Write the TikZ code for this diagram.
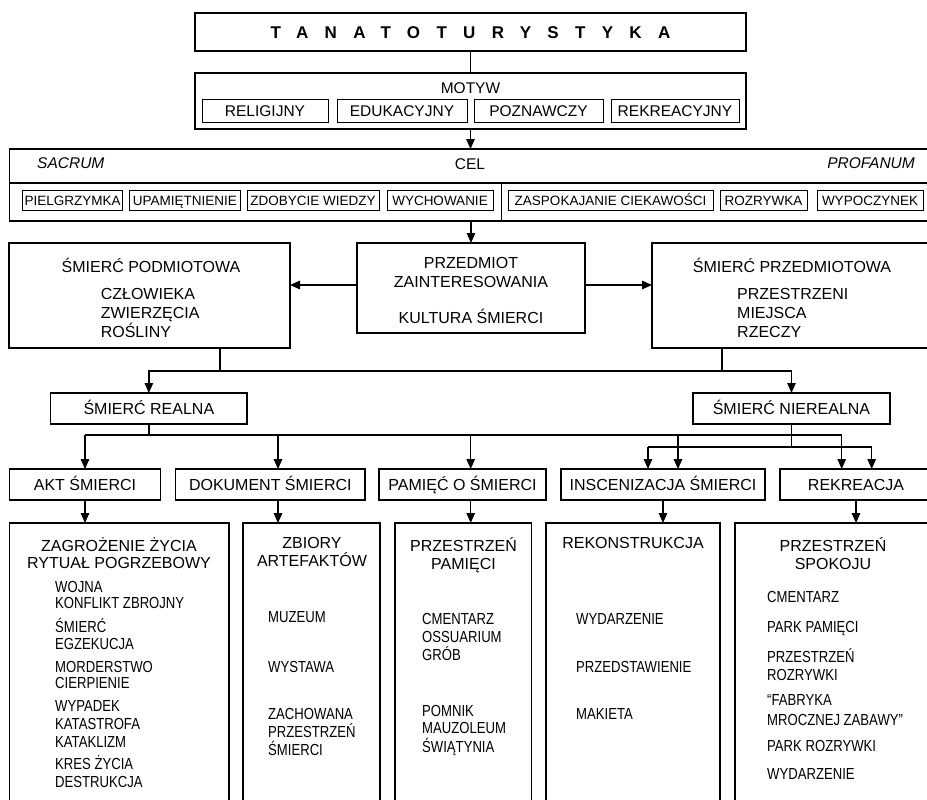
\documentclass[tikz,border=0pt]{standalone}
\usepackage{fontspec}
\setmainfont{Liberation Sans}
\newfontfamily\narrowfont[FakeStretch=0.82]{Liberation Sans}
\usetikzlibrary{arrows.meta}

\tikzset{
	frame/.style={draw, line width=1.3pt, inner sep=0pt, outer sep=0pt, anchor=north west,
		text height=11.4pt, text depth=0pt, font=\fontsize{16}{17}\selectfont},
	tab/.style={draw, line width=0.8pt, inner sep=0pt, outer sep=0pt, anchor=north west,
		minimum height=23.5pt, text height=11.1pt, text depth=0pt, font=\fontsize{15.5}{16}\selectfont},
	celtab/.style={tab, minimum height=20.5pt, text height=9.7pt, font=\fontsize{13.5}{14}\selectfont},
	head/.style={inner sep=0pt, text height=11.4pt, text depth=0pt, font=\fontsize{16}{17}\selectfont},
	mid/.style={head, anchor=west},
	item/.style={head, anchor=west, font=\narrowfont\fontsize{16}{17}\selectfont},
	link/.style={line width=1.3pt},
	arr/.style={link, -{Triangle[length=10pt, width=8.5pt]}},
}

\begin{document}
\begin{tikzpicture}[x=1pt, y=-1pt]
	\useasboundingbox (0,0) rectangle (927,800);

	% tytul i motyw
	\node[frame, minimum width=551pt, minimum height=38pt, text height=12.2pt,
		font=\bfseries\fontsize{17}{18}\selectfont] (tanat) at (195,13)
		{\addfontfeature{LetterSpace=96}TANATOTURYSTYKA\hspace{-0.96em}};
	\node[frame, minimum width=551pt, minimum height=56pt] (motyw) at (195,73) {};
	\node[head, font=\fontsize{15.5}{16}\selectfont] (motywlbl) at (470.5,88) {MOTYW};
	\node[tab, minimum width=126pt] (relig) at (202,99) {RELIGIJNY};
	\node[tab, minimum width=130pt] (eduk) at (337,99) {EDUKACYJNY};
	\node[tab, minimum width=129pt] (pozn) at (474,99) {POZNAWCZY};
	\node[tab, minimum width=128pt] (rekr) at (611,99) {REKREACYJNY};
	\draw[link] (tanat.south) -- (motyw.north);

	% cel
	\node[frame, minimum width=950pt, minimum height=72pt] (cel) at (9.3,149) {};
	\draw[line width=1.3pt] (cel.west |- 0,183) -- (cel.east |- 0,183);
	\draw[line width=0.9pt] (501,183) -- (cel.south -| 501,0);
	\node[mid, font=\itshape\fontsize{15.5}{16}\selectfont] (sacrum) at (37,163) {SACRUM};
	\node[head, font=\fontsize{15.5}{16}\selectfont] (cellbl) at (470,164) {CEL};
	\node[head, anchor=east, font=\itshape\fontsize{15.5}{16}\selectfont] (profanum) at (915,163) {PROFANUM};
	\node[celtab, minimum width=100pt] (pielg) at (22.7,190) {PIELGRZYMKA};
	\node[celtab, minimum width=111.7pt] (upam) at (129,190) {UPAMIĘTNIENIE};
	\node[celtab, minimum width=132pt] (zdob) at (247,190) {ZDOBYCIE WIEDZY};
	\node[celtab, minimum width=106pt] (wych) at (387,190) {WYCHOWANIE};
	\node[celtab, minimum width=205pt] (zaspo) at (508,190) {ZASPOKAJANIE CIEKAWOŚCI};
	\node[celtab, minimum width=87pt] (rozr) at (720,190) {ROZRYWKA};
	\node[celtab, minimum width=106pt] (wypo) at (817,190) {WYPOCZYNEK};
	\draw[arr] (motyw.south) -- (motyw.south |- cel.north);

	% przedmiot zainteresowania
	\node[frame, minimum width=281pt, minimum height=105pt] (podm) at (9,243) {};
	\node[frame, minimum width=228pt, minimum height=90pt] (przedm) at (357,243) {};
	\node[frame, minimum width=300pt, minimum height=105pt] (przedmiot) at (652,243) {};
	\node[head] (podmlbl) at (151,267) {ŚMIERĆ PODMIOTOWA};
	\node[mid] (czlowiek) at (100.6,294) {CZŁOWIEKA};
	\node[mid] (zwierze) at (100.6,313) {ZWIERZĘCIA};
	\node[mid] (rosliny) at (100.6,332) {ROŚLINY};
	\node[head] (przedmlbl) at (471,263) {PRZEDMIOT};
	\node[head] (zaint) at (471,282) {ZAINTERESOWANIA};
	\node[head] (kultura) at (471,318) {KULTURA ŚMIERCI};
	\node[head] (przedmiotlbl) at (792,267) {ŚMIERĆ PRZEDMIOTOWA};
	\node[mid] (przestrzeni) at (737,294) {PRZESTRZENI};
	\node[mid] (miejsca) at (737,313) {MIEJSCA};
	\node[mid] (rzeczy) at (737,332) {RZECZY};
	\draw[arr] (cel.south -| przedm.north) -- (przedm.north);
	\draw[arr] ([yshift=3pt]przedm.west) -- ([yshift=3pt]przedm.west -| podm.east);
	\draw[arr] ([yshift=3pt]przedm.east) -- ([yshift=3pt]przedm.east -| przedmiot.west);

	% realna / nierealna
	\node[frame, minimum width=196.3pt, minimum height=31pt] (realna) at (50.7,393) {ŚMIERĆ REALNA};
	\node[frame, minimum width=197pt, minimum height=31pt] (nierealna) at (693,393) {ŚMIERĆ NIEREALNA};
	\coordinate (bus1) at (220,371);
	\coordinate (bus2) at (722,371);
	\draw[link] (bus1 |- podm.south) -- (bus1);
	\draw[link] (bus2 |- przedmiot.south) -- (bus2);
	\draw[link] (bus1) -- (bus2);
	\draw[arr] (bus1) -| (realna.north);
	\draw[arr] (bus2) -| (nierealna.north);

	% formy
	\node[frame, minimum width=151.4pt, minimum height=31pt] (akt) at (9.3,469) {AKT ŚMIERCI};
	\node[frame, minimum width=189.3pt, minimum height=31pt] (dok) at (175.7,469) {DOKUMENT ŚMIERCI};
	\node[frame, minimum width=167pt, minimum height=31pt] (pam) at (379,469) {PAMIĘĆ O ŚMIERCI};
	\node[frame, minimum width=204pt, minimum height=31pt] (insc) at (561,469) {INSCENIZACJA ŚMIERCI};
	\node[frame, minimum width=152pt, minimum height=31pt] (rekre) at (780,469) {REKREACJA};

	\coordinate (r1) at (85,435);
	\coordinate (r2) at (278,435);
	\coordinate (r3) at (470.7,435);
	\coordinate (r4) at (678,435);
	\coordinate (r5) at (841.7,435);
	\coordinate (n1) at (648,447);
	\coordinate (n2) at (871.7,447);
	\draw[link] (realna.south) -- (realna.south |- r1);
	\draw[link] (r1) -- (r5);
	\draw[link] (nierealna.south) -- (nierealna.south |- n1);
	\draw[link] (n1) -- (n2);
	\draw[arr] (r1) -- (r1 |- akt.north);
	\draw[arr] (r2) -- (r2 |- dok.north);
	\draw[arr] (r3) -- (r3 |- pam.north);
	\draw[arr] (r4) -- (r4 |- insc.north);
	\draw[arr] (r5) -- (r5 |- rekre.north);
	\draw[arr] (n1) -- (n1 |- insc.north);
	\draw[arr] (n2) -- (n2 |- rekre.north);

	% przyklady
	\node[frame, minimum width=219.7pt, minimum height=300pt] (b1) at (9.3,523) {};
	\node[frame, minimum width=137pt, minimum height=300pt] (b2) at (243,523) {};
	\node[frame, minimum width=136.7pt, minimum height=300pt] (b3) at (395,523) {};
	\node[frame, minimum width=174pt, minimum height=300pt] (b4) at (546,523) {};
	\node[frame, minimum width=220pt, minimum height=300pt] (b5) at (735,523) {};
	\draw[arr] (akt.south) -- (akt.south |- b1.north);
	\draw[arr] (r2 |- dok.south) -- (r2 |- b2.north);
	\draw[arr] (r3 |- pam.south) -- (r3 |- b3.north);
	\draw[arr] (insc.south) -- (insc.south |- b4.north);
	\draw[arr] (rekre.south) -- (rekre.south |- b5.north);

	\node[head] (b1h1) at (119,545.7) {ZAGROŻENIE ŻYCIA};
	\node[head] (b1h2) at (119,563) {RYTUAŁ POGRZEBOWY};
	\foreach \y/\t in {587/WOJNA, 603/KONFLIKT ZBROJNY, 627/ŚMIERĆ, 644/EGZEKUCJA,
		667/MORDERSTWO, 683/CIERPIENIE, 706/WYPADEK, 724/KATASTROFA,
		742/KATAKLIZM, 764/KRES ŻYCIA, 782/DESTRUKCJA}
		\node[item] (b1-\y) at (55,\y) {\t};

	\node[head] (b2h1) at (312,543) {ZBIORY};
	\node[head] (b2h2) at (312,561) {ARTEFAKTÓW};
	\foreach \y/\t in {617/MUZEUM, 667/WYSTAWA, 714/ZACHOWANA, 732/PRZESTRZEŃ, 750/ŚMIERCI}
		\node[item] (b2-\y) at (268,\y) {\t};

	\node[head] (b3h1) at (463.5,546) {PRZESTRZEŃ};
	\node[head] (b3h2) at (463.5,564) {PAMIĘCI};
	\foreach \y/\t in {619/CMENTARZ, 637/OSSUARIUM, 655/GRÓB, 711/POMNIK, 728/MAUZOLEUM, 747/ŚWIĄTYNIA}
		\node[item] (b3-\y) at (422,\y) {\t};

	\node[head] (b4h1) at (633,543) {REKONSTRUKCJA};
	\foreach \y/\t in {619/WYDARZENIE, 667/PRZEDSTAWIENIE, 714/MAKIETA}
		\node[item] (b4-\y) at (576,\y) {\t};

	\node[head] (b5h1) at (833,546) {PRZESTRZEŃ};
	\node[head] (b5h2) at (833,564) {SPOKOJU};
	\foreach \y/\t in {597/CMENTARZ, 627/PARK PAMIĘCI, 657/PRZESTRZEŃ, 675/ROZRYWKI,
		700/“FABRYKA, 720/MROCZNEJ ZABAWY”, 746/PARK ROZRYWKI, 774/WYDARZENIE}
		\node[item] (b5-\y) at (767,\y) {\t};
\end{tikzpicture}
\end{document}
